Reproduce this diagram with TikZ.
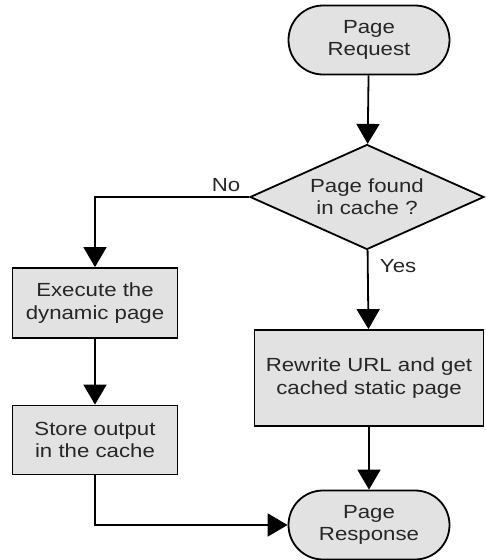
\documentclass[tikz,border=0pt]{standalone}
\usepackage{fontspec}
\newfontfamily\chartfont[FakeStretch=1.17]{Liberation Sans}
\usepackage{tikz}
\usetikzlibrary{shapes.geometric,shapes.misc,arrows.meta}
\definecolor{boxgray}{RGB}{226,226,226}

\begin{document}
\begin{tikzpicture}[x=1pt,y=-1pt,
		every node/.style={font=\chartfont\fontsize{19}{22.3}\selectfont,align=center,
			text=black!85},
		term/.style={rounded rectangle,draw,fill=boxgray,line width=1.8pt,
			minimum width=165pt,minimum height=69pt,inner sep=2pt},
		proc/.style={rectangle,draw,fill=boxgray,line width=1.8pt,inner sep=2pt},
		decide/.style={diamond,draw,fill=boxgray,line width=1.8pt,aspect=2.25,
			inner sep=0pt,minimum width=234pt,minimum height=105pt},
		arr/.style={line width=1.8pt,-{Triangle[length=20pt,width=23pt]}}]
		\useasboundingbox (0,0) rectangle (485,560);

		% Start and end
		\node[term] (req) at (369,40) {Page\\Request};
		\node[term] (resp) at (369,525) {Page\\Response};

		% Decision
		\node[decide] (find) at (367,197) {Page found\\in cache ?};

		% Cache miss branch
		\node[proc,minimum width=165pt,minimum height=70pt] (exec) at (95,303)
			{Execute the\\dynamic page};
		\node[proc,minimum width=165pt,minimum height=69pt] (store) at (95,440)
			{Store output\\in the cache};

		% Cache hit branch
		\node[proc,minimum width=229pt,minimum height=96pt] (rewrite) at (369,378)
			{Rewrite URL and get\\cached static page};

		% Connectors
		\draw[arr] (req) -- (find);
		\draw[arr] (find.west) -| node[pos=0.075,above=1pt] {No} (exec);
		\draw[arr] (find) -- node[pos=0.2,right=8pt] {Yes} (rewrite);
		\draw[arr] (exec) -- (store);
		\draw[arr] (rewrite) -- (resp);
		\draw[arr] (store) |- (resp);
	\end{tikzpicture}
\end{document}
